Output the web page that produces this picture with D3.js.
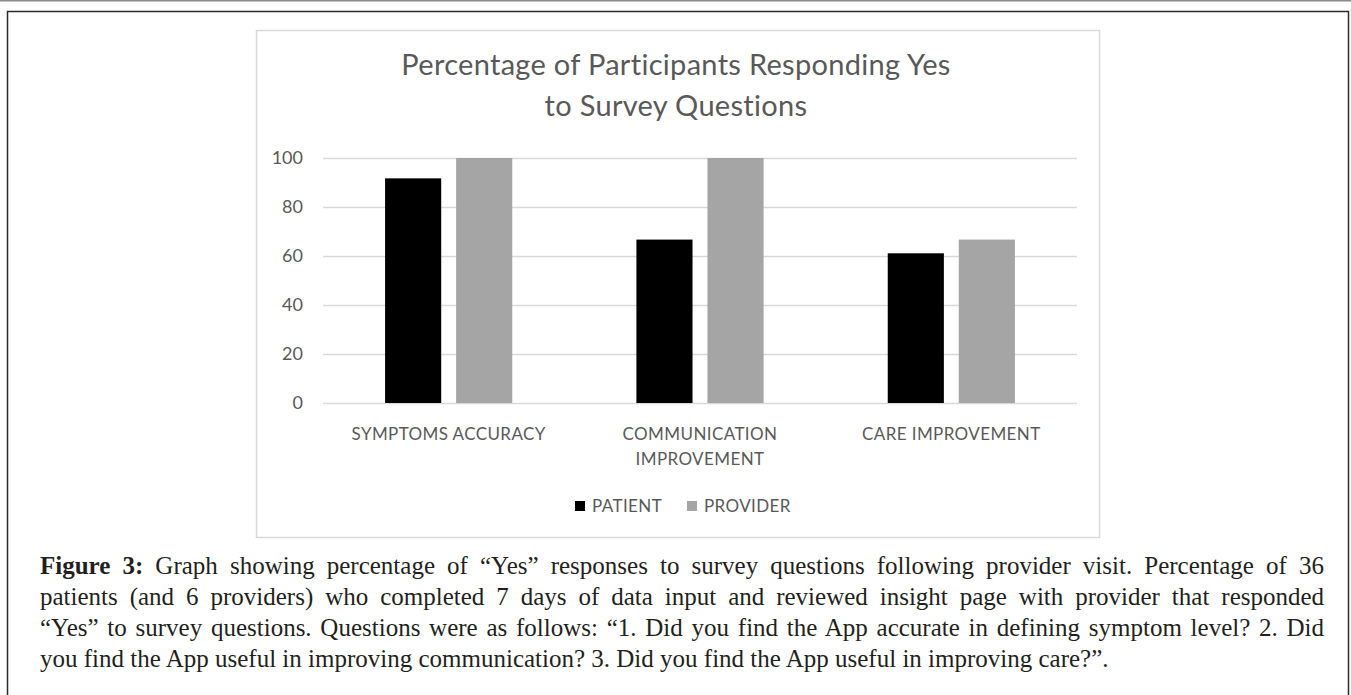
<!DOCTYPE html>
<html>
<head>
<meta charset="utf-8">
<script src="https://cdn.jsdelivr.net/npm/d3@7"></script>
<style>
  body { margin: 0; background: #fff; }
  svg { display: block; }
</style>
</head>
<body>
<div id="vis1"></div>
<script>
// chart data
const CATEGORIES = ["SYMPTOMS ACCURACY", "COMMUNICATION IMPROVEMENT", "CARE IMPROVEMENT"];
const SERIES = ["PATIENT", "PROVIDER"];
const PATIENT = [91.7, 66.7, 61.1];
const PROVIDER = [100, 100, 66.7];
const Y_TICKS = [0, 20, 40, 60, 80, 100];
const TITLE_LINES = ["Percentage of Participants Responding Yes", "to Survey Questions"];
const CAPTION_BOLD = "Figure 3:";
const CAPTION_LINES = [
  " Graph showing percentage of \u201cYes\u201d responses to survey questions following provider visit. Percentage of 36",
  "patients (and 6 providers) who completed 7 days of data input and reviewed insight page with provider that responded",
  "\u201cYes\u201d to survey questions. Questions were as follows: \u201c1. Did you find the App accurate in defining symptom level? 2. Did",
  "you find the App useful in improving communication? 3. Did you find the App useful in improving care?\u201d."
];

//create frame
const FRAME_HEIGHT = 695;
const FRAME_WIDTH = 1351;
const MARGINS = {left: 323, right: 274, top: 158, bottom: 292};

const VIS_HEIGHT = FRAME_HEIGHT - MARGINS.top - MARGINS.bottom;
const VIS_WIDTH = FRAME_WIDTH - MARGINS.left - MARGINS.right;

const COLORS = {PATIENT: "#000000", PROVIDER: "#a5a5a5"};
const TEXT_GRAY = "#595959";

const FRAME1 = d3.select("#vis1")
  .append("svg")
  .attr("height", FRAME_HEIGHT)
  .attr("width", FRAME_WIDTH);

// page rule at top and figure box
FRAME1.append("line")
  .attr("x1", 0).attr("x2", FRAME_WIDTH)
  .attr("y1", 0.75).attr("y2", 0.75)
  .attr("stroke", "#8a8a8a").attr("stroke-width", 1.5);

FRAME1.append("rect")
  .attr("x", 7.5).attr("y", 11.5)
  .attr("width", 1341).attr("height", 720)
  .attr("fill", "none")
  .attr("stroke", "#2b2b2b").attr("stroke-width", 1.5);

// chart area box
FRAME1.append("rect")
  .attr("x", 256.5).attr("y", 30.5)
  .attr("width", 843).attr("height", 507)
  .attr("fill", "#ffffff")
  .attr("stroke", "#d9d9d9").attr("stroke-width", 1.5);

// title
FRAME1.append("text")
  .attr("text-anchor", "middle")
  .attr("font-family", "Lato, sans-serif")
  .attr("font-size", "29px")
  .attr("letter-spacing", "0.3px")
  .attr("fill", TEXT_GRAY)
  .selectAll("tspan")
  .data(TITLE_LINES)
  .enter()
  .append("tspan")
  .attr("x", 676)
  .attr("y", (d, i) => 75 + i * 41)
  .text((d) => d);

// scales
const X_SCALE = d3.scaleBand()
  .domain(CATEGORIES)
  .range([0, VIS_WIDTH])
  .paddingInner(0.494)
  .paddingOuter(0.247);

const X_SUB = d3.scaleBand()
  .domain(SERIES)
  .range([0, X_SCALE.bandwidth()])
  .paddingInner(0.21);

const Y_SCALE = d3.scaleLinear()
  .domain([0, 100])
  .range([VIS_HEIGHT, 0]);

const PLOT = FRAME1.append("g")
  .attr("transform", "translate(" + MARGINS.left + "," + MARGINS.top + ")");

// y-axis with gridlines
const yAxis = PLOT.append("g")
  .call(d3.axisLeft(Y_SCALE).tickValues(Y_TICKS).tickSize(-VIS_WIDTH).tickPadding(20));
yAxis.select(".domain").remove();
yAxis.selectAll("line").attr("stroke", "#d9d9d9").attr("stroke-width", 1.5);
yAxis.selectAll("text")
  .attr("font-family", "Lato, sans-serif")
  .attr("font-size", "18px")
  .attr("fill", TEXT_GRAY);

// bars
const rows = CATEGORIES.map((c, i) => ({cat: c, PATIENT: PATIENT[i], PROVIDER: PROVIDER[i]}));

PLOT.selectAll(".group")
  .data(rows)
  .enter()
  .append("g")
  .attr("class", "group")
  .attr("transform", (d) => "translate(" + X_SCALE(d.cat) + ",0)")
  .selectAll("rect")
  .data((d) => SERIES.map((s) => ({key: s, value: d[s]})))
  .enter()
  .append("rect")
  .attr("x", (d) => X_SUB(d.key))
  .attr("y", (d) => Y_SCALE(d.value))
  .attr("width", X_SUB.bandwidth())
  .attr("height", (d) => VIS_HEIGHT - Y_SCALE(d.value))
  .attr("fill", (d) => COLORS[d.key]);

// category labels, wrapped when wider than the band step
const xLabels = PLOT.selectAll(".xlabel")
  .data(CATEGORIES)
  .enter()
  .append("text")
  .attr("class", "xlabel")
  .attr("text-anchor", "middle")
  .attr("font-family", "Lato, sans-serif")
  .attr("font-size", "17px")
  .attr("letter-spacing", "0.4px")
  .attr("fill", TEXT_GRAY);

xLabels.each(function (d) {
  const t = d3.select(this);
  const cx = X_SCALE(d) + X_SCALE.bandwidth() / 2;
  t.text(d);
  let lines = [d];
  if (this.getComputedTextLength() > X_SCALE.step() * 0.9) {
    lines = d.split(" ");
  }
  t.text(null);
  lines.forEach((ln, i) => {
    t.append("tspan").attr("x", cx).attr("y", VIS_HEIGHT + 37 + i * 25).text(ln);
  });
});

// legend
const LEGEND = FRAME1.append("g");
const legendX = [575, 687];
SERIES.forEach((s, i) => {
  LEGEND.append("rect")
    .attr("x", legendX[i]).attr("y", 501)
    .attr("width", 10).attr("height", 10)
    .attr("fill", COLORS[s]);
  LEGEND.append("text")
    .attr("x", legendX[i] + 17).attr("y", 512)
    .attr("font-family", "Lato, sans-serif")
    .attr("font-size", "17px")
    .attr("letter-spacing", "0.4px")
    .attr("fill", TEXT_GRAY)
    .text(s);
});

// caption, justified by stretching the word gaps
const CAP_X = 40;
const CAP_W = 1284;
const CAPTION = FRAME1.append("g")
  .attr("font-family", "'Liberation Serif', serif")
  .attr("font-size", "25px")
  .attr("fill", "#231f20");

CAPTION_LINES.forEach((ln, i) => {
  const t = CAPTION.append("text")
    .attr("x", CAP_X)
    .attr("y", 574 + i * 31);
  if (i === 0) {
    t.append("tspan").attr("font-weight", "bold").text(CAPTION_BOLD);
  }
  t.append("tspan").text(ln);
  if (i < CAPTION_LINES.length - 1) {
    const natural = t.node().getComputedTextLength();
    const spaces = (i === 0 ? CAPTION_BOLD + ln : ln).split(" ").length - 1;
    t.attr("word-spacing", Math.max(0, (CAP_W - natural) / spaces).toFixed(2) + "px");
  }
});
</script>
</body>
</html>
